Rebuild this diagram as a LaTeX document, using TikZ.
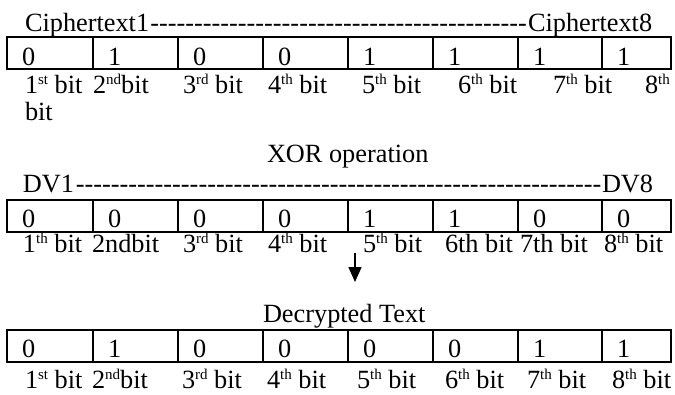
\documentclass[tikz,border=0pt]{standalone}
\usepackage{fontspec}
\setmainfont{Liberation Serif}
\usetikzlibrary{arrows.meta}
\newcommand{\sps}[1]{\raisebox{0.34em}{\fontsize{15}{15}\selectfont #1}}
\newcommand{\dashfill}[1]{\hbox to #1{\cleaders\hbox{-}\hfill}}
\begin{document}
\begin{tikzpicture}[x=1pt,y=-1pt,
  txt/.style={anchor=base west, inner sep=0pt, outer sep=0pt, font=\fontsize{26.3}{30}\selectfont},
  cellbox/.style={draw, line width=1.6pt, anchor=north west, inner sep=0pt, outer sep=0pt, minimum height=32pt},
  arr/.style={line width=1.6pt, -{Triangle[width=13pt,length=15pt]}}
  ]
\useasboundingbox (0,0) rectangle (675,394);

% ---------- Table 1 ----------
\node[txt] (c1) at (25,31) {Ciphertext1};
\node[txt] (c8) at (528,31) {Ciphertext8};
\node[txt] (cd) at (c1.base east) {\dashfill{379pt}};
\foreach \i/\xl/\xr/\b in {1/7/93/0,2/93/178/1,3/178/263/0,4/263/348/0,5/348/433/1,6/433/518/1,7/518/602/1,8/602/671/1}{
  \node[cellbox, minimum width=\xr-\xl] (a\i) at (\xl,37) {};
  \node[txt] (ad\i) at (\xl+15,65.5) {\b};
}
\node[txt] (al1) at (25,93) {1\sps{st} bit};
\node[txt] (al2) at (93,93) {2\sps{nd}bit};
\node[txt] (al3) at (183,93) {3\sps{rd} bit};
\node[txt] (al4) at (268,93) {4\sps{th} bit};
\node[txt] (al5) at (362,93) {5\sps{th} bit};
\node[txt] (al6) at (458,93) {6\sps{th} bit};
\node[txt] (al7) at (553,93) {7\sps{th} bit};
\node[txt] (al8) at (645,93) {8\sps{th}};
\node[txt] (al8b) at (25,120) {bit};

% ---------- Table 2 ----------
\node[txt] (xor) at (267,162) {XOR operation};
\node[txt] (dv1) at (23,192) {DV1};
\node[txt] (dv8) at (602,192) {DV8};
\node[txt] (dvd) at (dv1.base east) {\dashfill{529pt}};
\foreach \i/\xl/\xr/\b in {1/7/93/0,2/93/178/0,3/178/263/0,4/263/348/0,5/348/433/1,6/433/518/1,7/518/602/0,8/602/671/0}{
  \node[cellbox, minimum width=\xr-\xl] (b\i) at (\xl,200) {};
  \node[txt] (bd\i) at (\xl+15,227) {\b};
}
\node[txt] (bl1) at (23,252) {1\sps{th} bit};
\node[txt] (bl2) at (92,252) {2ndbit};
\node[txt] (bl3) at (183,252) {3\sps{rd} bit};
\node[txt] (bl4) at (268,252) {4\sps{th} bit};
\node[txt] (bl5) at (363,252) {5\sps{th} bit};
\node[txt] (bl6) at (445,252) {6th bit};
\node[txt] (bl7) at (520,252) {7th bit};
\node[txt] (bl8) at (604,252) {8\sps{th} bit};

\coordinate (arrS) at (355,253);
\coordinate (arrE) at (355,282);
\draw[arr] (arrS) -- (arrE);

% ---------- Table 3 ----------
\node[txt] (dec) at (263,322.5) {Decrypted Text};
\foreach \i/\xl/\xr/\b in {1/7/93/0,2/93/178/1,3/178/263/0,4/263/348/0,5/348/433/0,6/433/518/0,7/518/602/1,8/602/671/1}{
  \node[cellbox, minimum width=\xr-\xl] (d\i) at (\xl,330) {};
  \node[txt] (dd\i) at (\xl+15,357) {\b};
}
\node[txt] (dl1) at (25,388.5) {1\sps{st} bit};
\node[txt] (dl2) at (92,388.5) {2\sps{nd}bit};
\node[txt] (dl3) at (182,388.5) {3\sps{rd} bit};
\node[txt] (dl4) at (267,388.5) {4\sps{th} bit};
\node[txt] (dl5) at (357,388.5) {5\sps{th} bit};
\node[txt] (dl6) at (445,388.5) {6\sps{th} bit};
\node[txt] (dl7) at (527,388.5) {7\sps{th} bit};
\node[txt] (dl8) at (612,388.5) {8\sps{th} bit};
\end{tikzpicture}
\end{document}
